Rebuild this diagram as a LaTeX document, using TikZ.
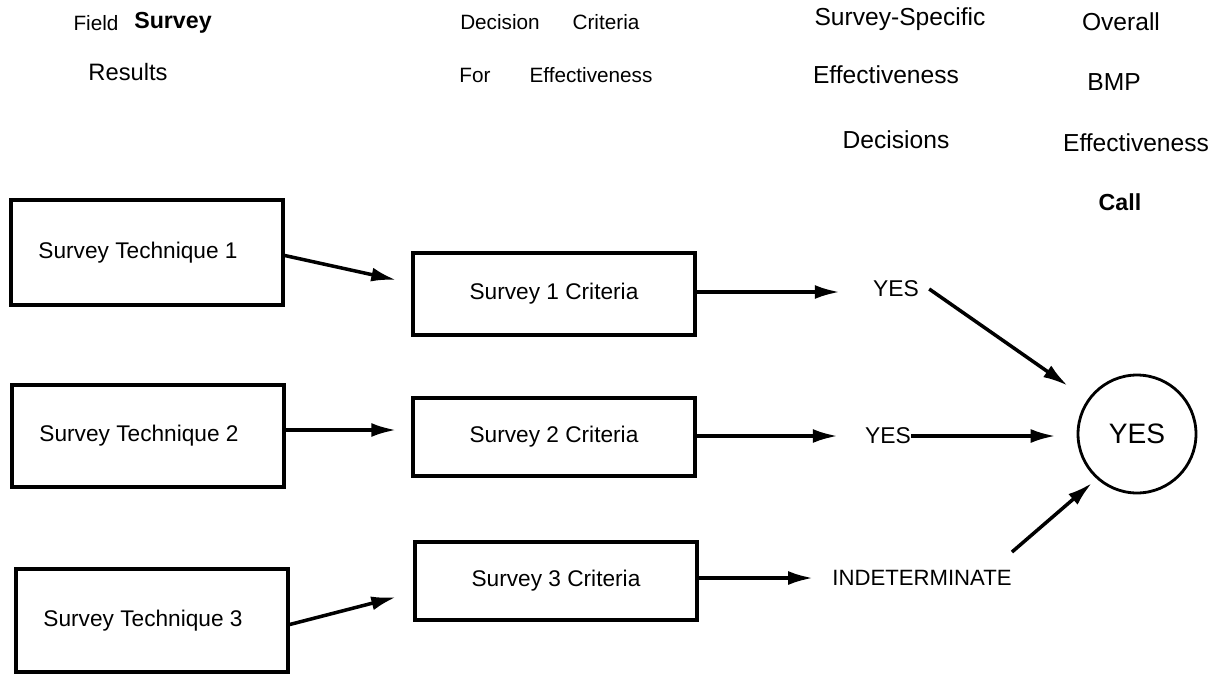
\documentclass[tikz,border=0pt]{standalone}
\usepackage{fontspec}
\setmainfont{Liberation Sans}
\usetikzlibrary{arrows.meta,calc}
\tikzset{
  box/.style={draw, line width=2pt, inner sep=0pt, minimum width=5.44cm},
  boxtext/.style={font=\fontsize{12.9}{15}\selectfont},
  hdr/.style={inner sep=0pt, font=\fontsize{14}{16}\selectfont},
  hdrs/.style={inner sep=0pt, font=\fontsize{11.8}{14}\selectfont},
  lbl/.style={inner sep=0pt, font=\fontsize{13}{15}\selectfont},
  arr/.style={line width=2pt, -{Latex[length=0.5cm,width=0.28cm]}},
}
\begin{document}
\begin{tikzpicture}[x=0.02cm, y=-0.02cm]
\useasboundingbox (0,0) rectangle (1220,673);
% headers
\node[hdrs] (h1a) at (96,23) {Field};
\node[hdr, font=\fontsize{13.2}{16}\selectfont\bfseries] (h1b) at (173,23) {Survey};
\node[hdr, font=\fontsize{13.5}{16}\selectfont] (h1c) at (128,72) {Results};
\node[hdrs] (h2a) at (500,22) {Decision};
\node[hdrs] (h2b) at (606,22) {Criteria};
\node[hdrs] (h2c) at (475,75) {For};
\node[hdrs] (h2d) at (591,75) {Effectiveness};
\node[hdr] (h3a) at (900,19) {Survey-Specific};
\node[hdr] (h3b) at (886,75) {Effectiveness};
\node[hdr] (h3c) at (896,140) {Decisions};
\node[hdr] (h4a) at (1121,22) {Overall};
\node[hdr] (h4b) at (1114,82) {BMP};
\node[hdr] (h4c) at (1136,143) {Effectiveness};
\node[hdr, font=\fontsize{13.2}{16}\selectfont\bfseries] (h4d) at (1120,202) {Call};
% technique boxes
\node[box, boxtext, minimum height=2.1cm] (st1) at (147,252.5) {\hspace*{-0.36cm}Survey Technique 1};
\node[box, boxtext, minimum height=2.04cm] (st2) at (148,436) {\hspace*{-0.36cm}Survey Technique 2};
\node[box, boxtext, minimum height=2.06cm] (st3) at (152,620.5) {\hspace*{-0.36cm}Survey Technique 3};
% criteria boxes
\node[box, boxtext, minimum width=5.64cm, minimum height=1.64cm] (c1) at (554,294) {Survey 1 Criteria};
\node[box, boxtext, minimum width=5.64cm, minimum height=1.56cm] (c2) at (554,437) {Survey 2 Criteria};
\node[box, boxtext, minimum width=5.64cm, minimum height=1.56cm] (c3) at (556,581) {Survey 3 Criteria};
% decisions
\node[lbl] (y1) at (896,289) {YES};
\node[lbl] (y2) at (888,436) {YES};
\node[lbl, font=\fontsize{12.6}{15}\selectfont] (ind) at (922,578) {INDETERMINATE};
% overall
\node[draw, circle, line width=1.6pt, minimum size=2.36cm, inner sep=0pt, font=\fontsize{16}{18}\selectfont] (ov) at (1137,434) {YES};
% connectors
\draw[arr] ($(st1.east)+(0,3)$) -- ($(c1.west)+(-15,-14)$);
\draw[arr] ($(st2.east)+(0,-6)$) -- ($(c2.west)+(-15,-7)$);
\draw[arr] ($(st3.east)+(0,4)$) -- ($(c3.west)+(-17,16)$);
\draw[arr] ($(c1.east)+(0,-2)$) -- ($(y1.west)+(-33,3)$);
\draw[arr] ($(c2.east)+(0,-1)$) -- ($(y2.west)+(-27,0)$);
\draw[arr] ($(c3.east)+(0,-3)$) -- ($(ind.west)+(-19,0)$);
\draw[arr, shorten >=0.48cm] ($(y1.east)+(10,0)$) -- (ov);
\draw[arr] (y2.east) -- ($(ov.west)+(-21,2)$);
\draw[arr] ($(ind.north east)+(0,-18)$) -- ($(ind.north east)!0.64!(ov.center)$);
\end{tikzpicture}
\end{document}
